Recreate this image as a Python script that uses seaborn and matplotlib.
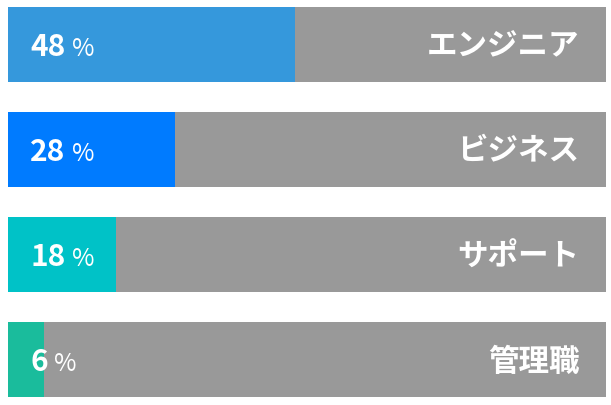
import matplotlib
matplotlib.use("Agg")
import matplotlib.pyplot as plt
import seaborn as sns
import pandas as pd

categories = ["エンジニア", "ビジネス", "サポート", "管理職"]
shares = [48, 28, 18, 6]
bar_colors = ["#3598dc", "#007bff", "#00c2c7", "#1abc9c"]
total = [100, 100, 100, 100]

sns.set_theme(style="white")
plt.rcParams["font.family"] = ["Noto Sans CJK JP", "DejaVu Sans"]

df = pd.DataFrame({"role": categories, "share": shares, "total": total})

W, H = 611, 405
fig = plt.figure(figsize=(W / 100, H / 100), dpi=100)
ax = fig.add_axes([8 / W, (H - 397) / H, 598 / W, 390 / H])

bw = 75 / 105
sns.barplot(data=df, y="role", x="total", color="#999999", width=bw,
            saturation=1, linewidth=0, ax=ax)
sns.barplot(data=df, y="role", x="share", hue="role", palette=bar_colors,
            width=bw, saturation=1, linewidth=0, legend=False, ax=ax)

ax.set_xlim(0, 100)
ax.set_ylim(3 + bw / 2, -bw / 2)
ax.axis("off")

base = 11.5 / 105  # baseline of the numbers, below the bar centre
for i, (name, val) in enumerate(zip(categories, shares)):
    num = ax.annotate(str(val), xy=(0, i + base), xytext=(16, 0),
                      textcoords="offset points", ha="left", va="baseline",
                      color="white", fontsize=21.5, fontweight="bold")
    # smaller percent sign right after the number, same baseline
    ax.annotate("%", xy=(1, i + base), xycoords=(num, "data"),
                xytext=(4.5, 0), textcoords="offset points", ha="left",
                va="baseline", color="white", fontsize=17.5)
    ax.annotate(name, xy=(100, i), xytext=(-19, -1.5),
                textcoords="offset points", ha="right", va="center",
                color="white", fontsize=22, fontweight="bold")

fig.savefig("out.png", dpi=100)
